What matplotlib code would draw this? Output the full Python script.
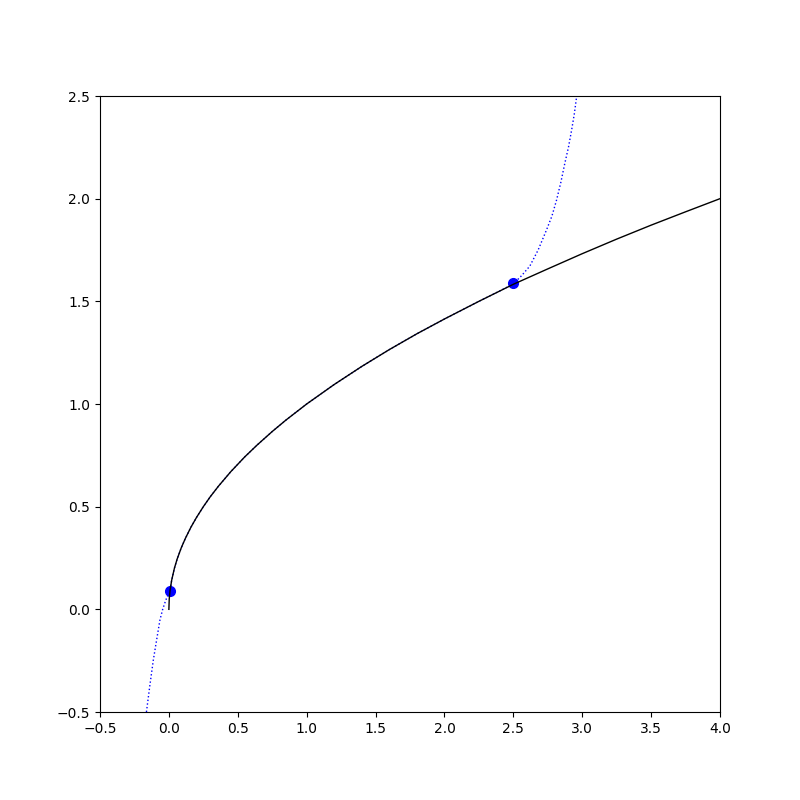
import matplotlib
matplotlib.use("Agg")
import matplotlib.pyplot as plt

# function curve
fx = [0, 0.0025, 0.008, 0.02, 0.04, 0.06, 0.09, 0.12, 0.16, 0.2, 0.25, 0.3, 0.36,
      0.45, 0.55, 0.64, 0.75, 0.85, 1.0, 1.2, 1.4, 1.6, 1.8, 2.0, 2.25, 2.5,
      2.75, 3.0, 3.25, 3.5, 3.75, 4.0]
fy = [0, 0.05, 0.09, 0.141, 0.2, 0.245, 0.3, 0.346, 0.4, 0.447, 0.5, 0.548, 0.6,
      0.671, 0.742, 0.8, 0.866, 0.922, 1.0, 1.095, 1.183, 1.265, 1.342, 1.414, 1.5, 1.583,
      1.658, 1.732, 1.803, 1.871, 1.936, 2.0]

# approximation curve (dotted)
ax_ = [-0.163, -0.138, -0.113, -0.088, -0.065, -0.045, -0.03, -0.015, 0.0, 0.008,
       0.02, 0.04, 0.06, 0.09, 0.12, 0.16, 0.2, 0.25, 0.3, 0.36, 0.45, 0.55, 0.64,
       0.75, 0.85, 1.0, 1.2, 1.4, 1.6, 1.8, 2.0, 2.25, 2.4, 2.5,
       2.56, 2.62, 2.68, 2.741, 2.78, 2.814, 2.845, 2.874, 2.9, 2.923, 2.942, 2.96]
ay_ = [-0.5, -0.37, -0.247, -0.145, -0.052, 0.0, 0.03, 0.058, 0.078, 0.09,
       0.141, 0.2, 0.245, 0.3, 0.346, 0.4, 0.447, 0.5, 0.548, 0.6, 0.671, 0.742, 0.8,
       0.866, 0.922, 1.0, 1.095, 1.183, 1.265, 1.342, 1.414, 1.5, 1.55, 1.585,
       1.625, 1.672, 1.75, 1.848, 1.915, 1.994, 2.08, 2.173, 2.25, 2.334, 2.41, 2.5]

# nodes
px = [0.008, 2.5]
py = [0.09, 1.587]

fig, ax = plt.subplots(figsize=(8, 8), dpi=100)
ax.plot(ax_, ay_, ':', color='blue', linewidth=1)
ax.plot(px, py, 'o', color='blue', markersize=7)
ax.plot(fx, fy, '-', color='black', linewidth=1)
ax.set_xlim(-0.5, 4.0)
ax.set_ylim(-0.5, 2.5)

fig.savefig("out.png")
